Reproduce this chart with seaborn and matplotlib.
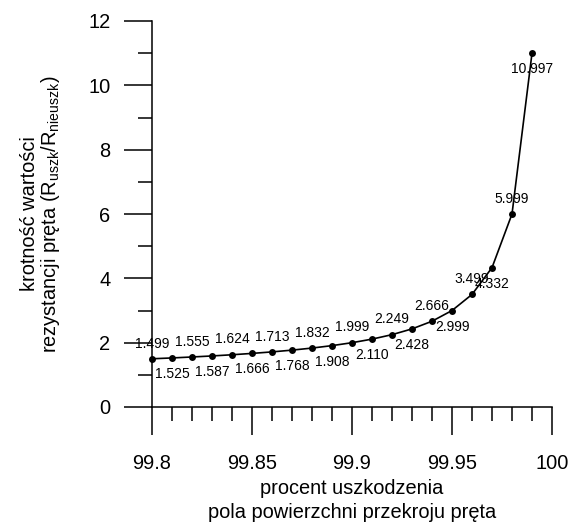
import matplotlib
matplotlib.use("Agg")
import numpy as np
import pandas as pd
import seaborn as sns
import matplotlib.pyplot as plt
from matplotlib.ticker import MultipleLocator

# ---- data ----
damage = [99.80, 99.81, 99.82, 99.83, 99.84, 99.85, 99.86, 99.87, 99.88, 99.89,
          99.90, 99.91, 99.92, 99.93, 99.94, 99.95, 99.96, 99.97, 99.98, 99.99]
ratio = [1.499, 1.525, 1.555, 1.587, 1.624, 1.666, 1.713, 1.768, 1.832, 1.908,
         1.999, 2.110, 2.249, 2.428, 2.666, 2.999, 3.499, 4.332, 5.999, 10.997]
point_labels = ["1.499", "1.525", "1.555", "1.587", "1.624", "1.666", "1.713",
                "1.768", "1.832", "1.908", "1.999", "2.110", "2.249", "2.428",
                "2.666", "2.999", "3.499", "4.332", "5.999", "10.997"]
xticks = [99.8, 99.85, 99.9, 99.95, 100.0]
xtick_labels = ["99.8", "99.85", "99.9", "99.95", "100"]
yticks = [0, 2, 4, 6, 8, 10, 12]
ytick_labels = ["0", "2", "4", "6", "8", "10", "12"]

sns.set_style("ticks")
plt.rcParams['font.family'] = ['Liberation Sans', 'DejaVu Sans']
plt.rcParams['mathtext.fontset'] = 'custom'
plt.rcParams['mathtext.rm'] = 'Liberation Sans'
plt.rcParams['mathtext.it'] = 'Liberation Sans'
for k in ['text.color', 'axes.labelcolor', 'xtick.color', 'ytick.color',
          'axes.edgecolor']:
    plt.rcParams[k] = 'black'

fig = plt.figure(figsize=(5.72, 5.24), dpi=100)
ax = fig.add_axes([152 / 572, 1 - 407 / 524, 400 / 572, 386 / 524])

df = pd.DataFrame({"damage": damage, "ratio": ratio})
sns.lineplot(data=df, x="damage", y="ratio", ax=ax, color="black",
             linewidth=1.2, marker="o", markersize=5, markeredgewidth=0,
             clip_on=False, zorder=5)

for i, (x, y, t) in enumerate(zip(damage, ratio, point_labels)):
    dy = 11 if i % 2 == 0 else -11.5
    ax.annotate(t, (x, y), xytext=(0, dy), textcoords="offset points",
                ha="center", va="center", fontsize=10, color="black")

ax.set_xlim(99.8, 100.0)
ax.set_ylim(0, 12)
ax.set_xticks(xticks)
ax.set_xticklabels(xtick_labels)
ax.set_yticks(yticks)
ax.set_yticklabels(ytick_labels)
ax.xaxis.set_minor_locator(MultipleLocator(0.01))
ax.yaxis.set_minor_locator(MultipleLocator(1))

ax.tick_params(which="major", length=20, width=1.1, direction="out",
               labelsize=14.4, color="black", labelcolor="black")
ax.tick_params(axis="x", which="major", pad=14)
ax.tick_params(axis="y", which="major", pad=10)
ax.tick_params(which="minor", length=10, width=1.1, direction="out", color="black")

for s in ["top", "right"]:
    ax.spines[s].set_visible(False)
for s in ["left", "bottom"]:
    ax.spines[s].set_linewidth(1.1)
    ax.spines[s].set_color("black")

ax.set_xlabel("procent uszkodzenia\npola powierzchni przekroju pręta",
              fontsize=14.4, labelpad=4, linespacing=1.35, color="black")
ax.set_ylabel("krotność wartości\nrezystancji pręta "
              r"(R$_{\mathregular{uszk}}$/R$_{\mathregular{nieuszk}}$)",
              fontsize=14.4, labelpad=19, linespacing=1.0, color="black")
ax.set_facecolor("white")
fig.patch.set_facecolor("white")

fig.savefig("out.png", dpi=100, facecolor="white")
